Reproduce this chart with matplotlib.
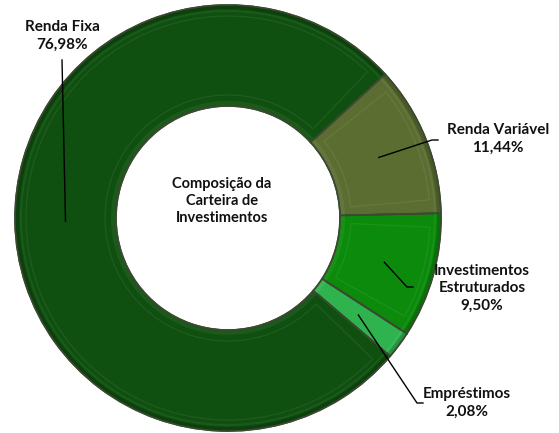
import numpy as np
import matplotlib
matplotlib.use("Agg")
import matplotlib.pyplot as plt
from matplotlib.patches import Wedge
import matplotlib.colors as mcolors

# data
categories = ["Renda Fixa", "Renda Variável", "Investimentos\nEstruturados", "Empréstimos"]
shares = [76.98, 11.44, 9.50, 2.08]
share_labels = ["76,98%", "11,44%", "9,50%", "2,08%"]
colors = ["#0f4f0f", "#5b6d31", "#0b8a0b", "#2fb34f"]

plt.rcParams["font.family"] = ["Lato", "DejaVu Sans"]

W, H = 559, 433
fig = plt.figure(figsize=(W / 100, H / 100), dpi=100)
ax = fig.add_axes([0, 0, 1, 1])
ax.set_xlim(0, W)
ax.set_ylim(0, H)
ax.set_aspect("equal")
ax.axis("off")

cx, cy = 228, H - 218
R, r_in = 213, 112
ring = R - r_in

wedges, _ = ax.pie(shares, center=(cx, cy), radius=R, startangle=-40.4,
                   counterclock=False, colors=colors,
                   wedgeprops=dict(width=ring, edgecolor="#3b4a30", linewidth=1.2))
ax.set_xlim(0, W)
ax.set_ylim(0, H)


def shade(c, f):
    rgb = np.array(mcolors.to_rgb(c))
    if f > 0:
        rgb = rgb + (1 - rgb) * f
    else:
        rgb = rgb * (1 + f)
    return np.clip(rgb, 0, 1)


# bevel effect
for w, c in zip(wedges, colors):
    t1, t2 = w.theta1, w.theta2
    # dark outer rim
    ax.add_patch(Wedge((cx, cy), R, t1, t2, width=4, facecolor=shade(c, -0.3),
                       edgecolor="none", alpha=0.6))
    ax.add_patch(Wedge((cx, cy), R - 5, t1, t2, width=2, facecolor=shade(c, 0.1),
                       edgecolor="none", alpha=0.6))
    # light inner rim
    ax.add_patch(Wedge((cx, cy), r_in + 5, t1, t2, width=4, facecolor=shade(c, 0.1),
                       edgecolor="none", alpha=0.6))
    # inset frame
    ins = 11
    da = np.degrees(ins / ((R + r_in) / 2))
    if t2 - t1 > 2 * da + 1:
        ax.add_patch(Wedge((cx, cy), R - ins, t1 + da, t2 - da, width=ring - 2 * ins,
                           facecolor="none", edgecolor=shade(c, 0.12), linewidth=0.9,
                           alpha=0.6))
    ax.add_patch(Wedge((cx, cy), R, t1, t2, width=ring, facecolor="none",
                       edgecolor="#3b4a30", linewidth=1.1))

# labels with leader lines
label_pos = [(62, 36), (498, 139), (482, 288), (467, 403)]
elbows = [[(62, 60)], [(432, 140), (438, 140)], [(407, 287), (413, 287)],
          [(417, 403), (423, 403)]]
rmid = (R + r_in) / 2
for w, cat, sl, (lx, ly), pts in zip(wedges, categories, share_labels, label_pos, elbows):
    ang = np.radians((w.theta1 + w.theta2) / 2)
    xs = [cx + rmid * np.cos(ang)] + [p[0] for p in pts]
    ys = [cy + rmid * np.sin(ang)] + [H - p[1] for p in pts]
    ax.plot(xs, ys, color="black", lw=1.0)
    ax.text(lx, H - ly, cat + "\n" + sl, ha="center", va="center", fontsize=11,
            fontweight="bold", linespacing=1.3, color="#111111")

ax.text(222, H - 201, "Composição da\nCarteira de\nInvestimentos", ha="center",
        va="center", fontsize=10.5, fontweight="bold", linespacing=1.3, color="#111111")

fig.savefig("out.png", dpi=100)
